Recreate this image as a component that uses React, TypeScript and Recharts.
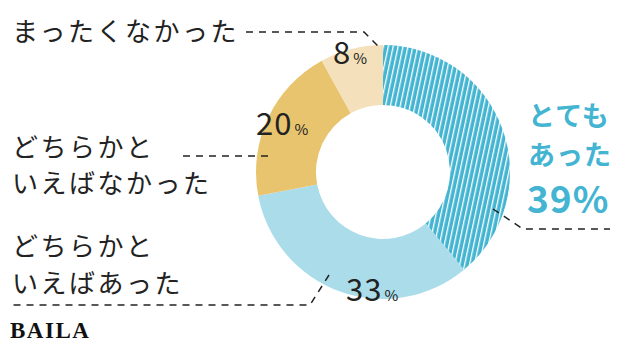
import { PieChart, Pie, Cell } from "recharts";

const categories = ["とてもあった", "どちらかといえばあった", "どちらかといえばなかった", "まったくなかった"];
const shares = [39, 33, 20, 8];

const COLORS = ["url(#stripes)", "#abdcea", "#e9c46f", "#f4e1bb"];
const INK = "#222";
const BLUE = "#43b4d1";
const JP = "'Noto Sans CJK JP', 'Noto Sans', sans-serif";

const data = categories.map((name, i) => ({ name, value: shares[i] }));

// label anchor for each slice (start x, baseline y) plus its leader line
const LAYOUT = [
  { x: 527, y: 213, lead: "M493 209 L523 229 L610 229" },
  { x: 346, y: 301, lead: "M329 275 L310 305 L10 305" },
  { x: 256, y: 135, lead: "M183 156 L272 156" },
  { x: 333, y: 64, lead: "M246 32 L364 32 L378 46" },
];

const renderLabel = (props: any) => {
  const { index, value } = props;
  const pos = LAYOUT[index];
  const lead = (
    <path d={pos.lead} fill="none" stroke={INK} strokeWidth={1.5} strokeDasharray="7 6" />
  );
  if (index === 0) {
    return (
      <g>
        {lead}
        <text x={pos.x} y={pos.y} fill={BLUE} fontFamily={JP} fontWeight={700} fontSize={37} letterSpacing={1}>
          {value}%
        </text>
      </g>
    );
  }
  return (
    <g>
      {lead}
      <text x={pos.x} y={pos.y} fill={INK} fontFamily={JP} fontSize={31} letterSpacing={1}>
        {value}
        <tspan fontSize={15} dx={2}>%</tspan>
      </text>
    </g>
  );
};

const leftText = { fill: INK, fontFamily: JP, fontSize: 26, letterSpacing: 2.5 };

export default function App() {
  return (
    <div style={{ position: "absolute", left: 0, top: 0, width: 621, height: 355, background: "#fff" }}>
      <PieChart width={621} height={355} margin={{ top: 0, right: 0, bottom: 0, left: 0 }}>
        <defs>
          <pattern id="stripes" patternUnits="userSpaceOnUse" width={4.8} height={10} patternTransform="rotate(12)">
            <rect width={4.8} height={10} fill={BLUE} />
            <rect x={0} width={1.3} height={10} fill="#ffffff" />
          </pattern>
        </defs>
        <Pie
          data={data}
          dataKey="value"
          nameKey="name"
          cx={383}
          cy={172}
          innerRadius={67}
          outerRadius={127}
          startAngle={90}
          endAngle={-270}
          stroke="none"
          label={renderLabel}
          labelLine={false}
          isAnimationActive={false}
        >
          {data.map((entry, index) => (
            <Cell key={`cell-${entry.name}`} fill={COLORS[index]} />
          ))}
        </Pie>
        <text x={12} y={41} {...leftText}>まったくなかった</text>
        <text x={12} y={157} {...leftText}>どちらかと</text>
        <text x={12} y={193} {...leftText}>いえばなかった</text>
        <text x={12} y={256} {...leftText}>どちらかと</text>
        <text x={12} y={293} {...leftText}>いえばあった</text>
        <text x={528} y={126} fill={BLUE} fontFamily={JP} fontWeight={700} fontSize={27} letterSpacing={1}>とても</text>
        <text x={528} y={165} fill={BLUE} fontFamily={JP} fontWeight={700} fontSize={27} letterSpacing={1}>あった</text>
        <text x={10} y={338} fill="#111" fontFamily="'Liberation Serif', serif" fontWeight={700} fontSize={23} letterSpacing={1.5}>
          BAILA
        </text>
      </PieChart>
    </div>
  );
}
